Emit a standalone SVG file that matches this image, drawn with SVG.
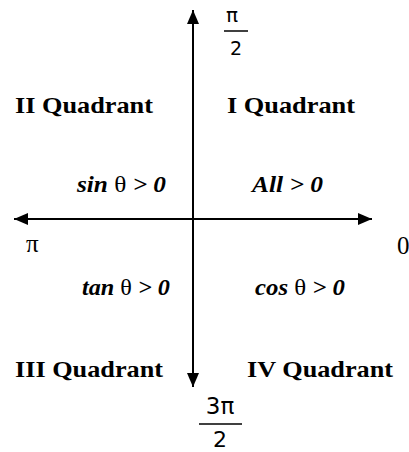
<svg xmlns="http://www.w3.org/2000/svg" width="409" height="452" viewBox="0 0 409 452">
<style>
.q{font-family:"Liberation Serif","Times New Roman",serif;font-weight:bold;font-size:24px;fill:#000}
.c{font-family:"Liberation Serif","Times New Roman",serif;font-weight:bold;font-style:italic;font-size:24px;fill:#000}
.th{font-style:normal;font-weight:normal}
.ax{font-family:"Liberation Serif","Times New Roman",serif;font-size:25px;fill:#000}
.fr{font-family:"DejaVu Sans","Noto Sans",sans-serif;fill:#000;text-anchor:middle}
.axis{stroke:#000;stroke-width:2;fill:none}
</style>
<defs>
<marker id="ah" markerUnits="userSpaceOnUse" markerWidth="14" markerHeight="12" refX="14" refY="6" orient="auto-start-reverse">
<path d="M0,0 L14,6 L0,12 z" fill="#000"/>
</marker>
</defs>
<g id="connectors">
<line class="axis" x1="193" y1="387" x2="193" y2="10" marker-start="url(#ah)" marker-end="url(#ah)"/>
<line class="axis" x1="14" y1="219" x2="372" y2="219" marker-start="url(#ah)" marker-end="url(#ah)"/>
</g>
<g id="quadrant-I"><text class="q" x="227" y="113" textLength="128" lengthAdjust="spacingAndGlyphs">I Quadrant</text></g>
<g id="quadrant-II"><text class="q" x="15" y="113" textLength="138" lengthAdjust="spacingAndGlyphs">II Quadrant</text></g>
<g id="quadrant-III"><text class="q" x="15" y="377" textLength="148" lengthAdjust="spacingAndGlyphs">III Quadrant</text></g>
<g id="quadrant-IV"><text class="q" x="247" y="377" textLength="146" lengthAdjust="spacingAndGlyphs">IV Quadrant</text></g>
<g id="sin"><text class="c" x="77" y="192" textLength="89" lengthAdjust="spacingAndGlyphs">sin <tspan class="th">θ</tspan> &gt; 0</text></g>
<g id="all"><text class="c" x="252" y="192" textLength="71" lengthAdjust="spacingAndGlyphs">All &gt; 0</text></g>
<g id="tan"><text class="c" x="82" y="295" textLength="88" lengthAdjust="spacingAndGlyphs">tan <tspan class="th">θ</tspan> &gt; 0</text></g>
<g id="cos"><text class="c" x="255" y="295" textLength="90" lengthAdjust="spacingAndGlyphs">cos <tspan class="th">θ</tspan> &gt; 0</text></g>
<g id="label-pi"><text class="ax" x="26" y="252">π</text></g>
<g id="label-0"><text class="ax" x="397" y="254">0</text></g>
<g id="label-pi-2">
<text class="fr" x="232" y="22" font-size="20">π</text>
<line x1="224" y1="31" x2="248" y2="31" stroke="#000" stroke-width="1.5"/>
<text class="fr" x="236" y="55" font-size="19">2</text>
</g>
<g id="label-3pi-2">
<text class="fr" x="220" y="414" font-size="23">3π</text>
<line x1="199" y1="424" x2="242" y2="424" stroke="#000" stroke-width="1.5"/>
<text class="fr" x="220" y="447" font-size="22">2</text>
</g>
</svg>
